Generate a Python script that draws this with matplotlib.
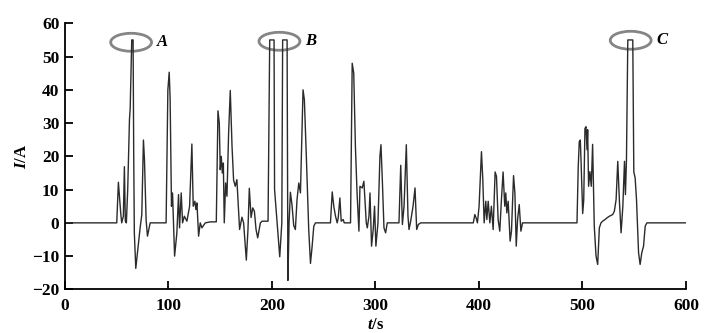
import matplotlib
matplotlib.use("Agg")
import matplotlib.pyplot as plt
from matplotlib.patches import Ellipse

plt.rcParams["font.family"] = ["Liberation Serif", "DejaVu Serif"]
plt.rcParams["mathtext.fontset"] = "custom"
plt.rcParams["mathtext.rm"] = "Liberation Serif:bold"
plt.rcParams["mathtext.it"] = "Liberation Serif:italic:bold"
plt.rcParams["mathtext.bf"] = "Liberation Serif:bold"

# welding current trace
t_s = [0, 50, 51.6, 53.9, 54.8, 56.4, 57.4, 58.3, 59.3, 60.6, 62.3, 63, 64.5, 65.8, 66.4, 67,
       68.4, 70.4, 72.6, 74.2, 75.8, 76.8, 78.4, 79.7, 82.3, 97.7, 99.4, 100.7, 101.6, 102.9,
       103.9, 105.9, 108.1, 109.7, 110.7, 112.3, 113.6, 115.3, 117.8, 120.4, 122.6, 123.9,
       125.5, 126.5, 127.5, 129.1, 130.7, 132.3, 135.6, 140.4, 146.2, 147.8, 149.1, 150, 151,
       152, 153, 153.9, 155.2, 156.5, 158.1, 159.7, 161.4, 162.9, 164.5, 166.1, 167.8, 168.7,
       171, 172.6, 175.2, 176.8, 178.1, 179.8, 181.4, 183, 184.6, 186.2, 188.8, 190.4, 196.2,
       197.8, 202, 202.5, 207.5, 209.5, 210.3, 214.6, 215.4, 216.5, 217.8, 219.4, 221, 222.6,
       224.2, 225.9, 227.5, 230, 231.3, 233.3, 235.5, 237.2, 238.8, 240.4, 242, 256.5, 258.2,
       259.8, 261.4, 263, 264, 265.6, 266.9, 268.8, 269.8, 275.9, 277.5, 279, 280.6, 282.2,
       284, 285, 287.2, 288.8, 289.8, 291.1, 292.1, 293.7, 294.7, 296.2, 297.8, 299.1, 300.4,
       302.4, 304.3, 305.3, 306.6, 308.2, 309.8, 311.4, 322.7, 324.4, 326, 327.6, 329.8, 331.4,
       332.4, 334, 336.3, 338.2, 339.8, 341.4, 343.7, 394.5, 396, 397.2, 398.5, 400.1, 402.4,
       403.7, 405, 406.6, 407.6, 408.9, 410.5, 412, 413.7, 415.6, 416.9, 418.5, 420.1, 421.7,
       423.3, 424.9, 425.9, 426.9, 428.2, 430.1, 431.4, 433.4, 434.7, 436, 437.3, 438.9, 440.5,
       442.1, 494.7, 495.9, 496.9, 497.9, 498.6, 499.5, 500.2, 501.2, 502.4, 503.4, 504.4, 505,
       505.9, 507.2, 508.5, 509.8, 511.4, 513.1, 514.7, 516.3, 517.9, 519.5, 521.8, 523.7, 526,
       529.2, 530.8, 532.5, 534.1, 535.7, 537.3, 539, 540.6, 541.5, 542.5, 543.8, 548.6, 549.6,
       550.9, 552.2, 554.2, 555.7, 557.3, 559, 560.6, 562.2, 600]
current_a = [0, 0, 12.2, 2.8, 0, 2, 16.9, 0.5, 0, 10, 31, 34.5, 55, 55, 21, -3,
             -13.7, -8, -1.5, 2.4, 24.9, 19, 0.8, -4, 0, 0, 40, 45.3, 37, 5,
             9, -10, -3, 8.5, -1.5, 9, 0, 2, 0.5, 5, 23.7, 5,
             6.5, 4, 6, -4, 0, -1.5, 0, 0.3, 0.3, 33.7, 30, 16, 20,
             15, 18, 0, 12, 8, 27, 39.8, 23, 12.9, 11, 13, 2.8, -2,
             1.7, 0, -11.2, -2, 10.4, 1.6, 4.5, 3.5, -2, -4.5, 0, 0.5, 0.5,
             55, 55, 10, -10.2, 0, 55, 55, -17.3, 0, 9.2, 5.2, -0.8, -2,
             7, 12, 9, 40, 37, 19, -2, -12.2, -7, -1, 0, 0, 9.3,
             4.8, 2, 0, 1.5, 7.5, 0.5, 1, 0, 0, 48, 45, 23, 9,
             -2.5, 11, 10.5, 12.5, 7, 0, -1.5, 2, 9, -7, -2, 5, -7,
             0, 20, 23.5, 13, -1.5, -3, 0, 0, 17.3, -0.5, 5, 23.5, 2,
             -2, 0.5, 5, 10.5, -2, -0.5, 0, 0, 2.5, 1.5, 0, 5, 21.4,
             13, 0, 6.5, 1, 6.5, 0, 5, -2, 15.3, 14, 1, -2.5, 7,
             15.3, 5, 9, 3, 6.5, -5.5, -2.5, 14.2, 9, -7, 1, 5.5, -2.5,
             0, 0, 16.9, 24.4, 24.9, 18.8, 9.8, 2.8, 6.8, 28.4, 28.9, 22, 28,
             11, 15.4, 11, 23.6, -1, -10, -12.5, -1.5, 0, 0.5, 1, 1.5, 2,
             2.5, 3.5, 7, 18.5, 6.5, -3, 5, 18.5, 8.5, 19, 55, 55, 15.3,
             13.5, 7, -9, -12.5, -9, -7, -1, 0, 0]

# marked clipping events
mark_labels = ["A", "B", "C"]
mark_t = [63.9, 207.2, 546.6]
mark_i = [54.3, 54.6, 54.9]

fig = plt.figure(figsize=(7.11, 3.33), dpi=100)
ax = fig.add_axes([0.0914, 0.131, 0.8734, 0.799])

ax.plot(t_s, current_a, color="#2b2b2b", linewidth=1.0)

for lab, tx, iy in zip(mark_labels, mark_t, mark_i):
    ax.add_patch(Ellipse((tx, iy), width=39.5, height=5.4, fill=False,
                         edgecolor="#858585", linewidth=2.0))
    ax.text(tx + 30, iy, lab, fontsize=12, style="italic", fontweight="bold",
            ha="center", va="center")

ax.set_xlim(0, 600)
ax.set_ylim(-20, 60)
ax.set_xticks(range(0, 601, 100))
ax.set_yticks(range(-20, 61, 10))
ax.set_yticklabels(["\u221220", "\u221210", "0", "10", "20", "30", "40", "50", "60"])

ax.spines["top"].set_visible(False)
ax.spines["right"].set_visible(False)
ax.spines["left"].set_linewidth(1.3)
ax.spines["bottom"].set_linewidth(1.3)
ax.tick_params(direction="in", length=6, width=1.3, labelsize=12.5)
ax.tick_params(axis="x", pad=6.5)
ax.tick_params(axis="y", pad=4)
for lbl in ax.get_xticklabels() + ax.get_yticklabels():
    lbl.set_fontweight("bold")

ax.set_xlabel(r"$t$/s", fontsize=12, fontweight="bold", labelpad=2)
ax.set_ylabel(r"$I$/A", fontsize=12, fontweight="bold", labelpad=1.5)

fig.savefig("out.png", dpi=100)
